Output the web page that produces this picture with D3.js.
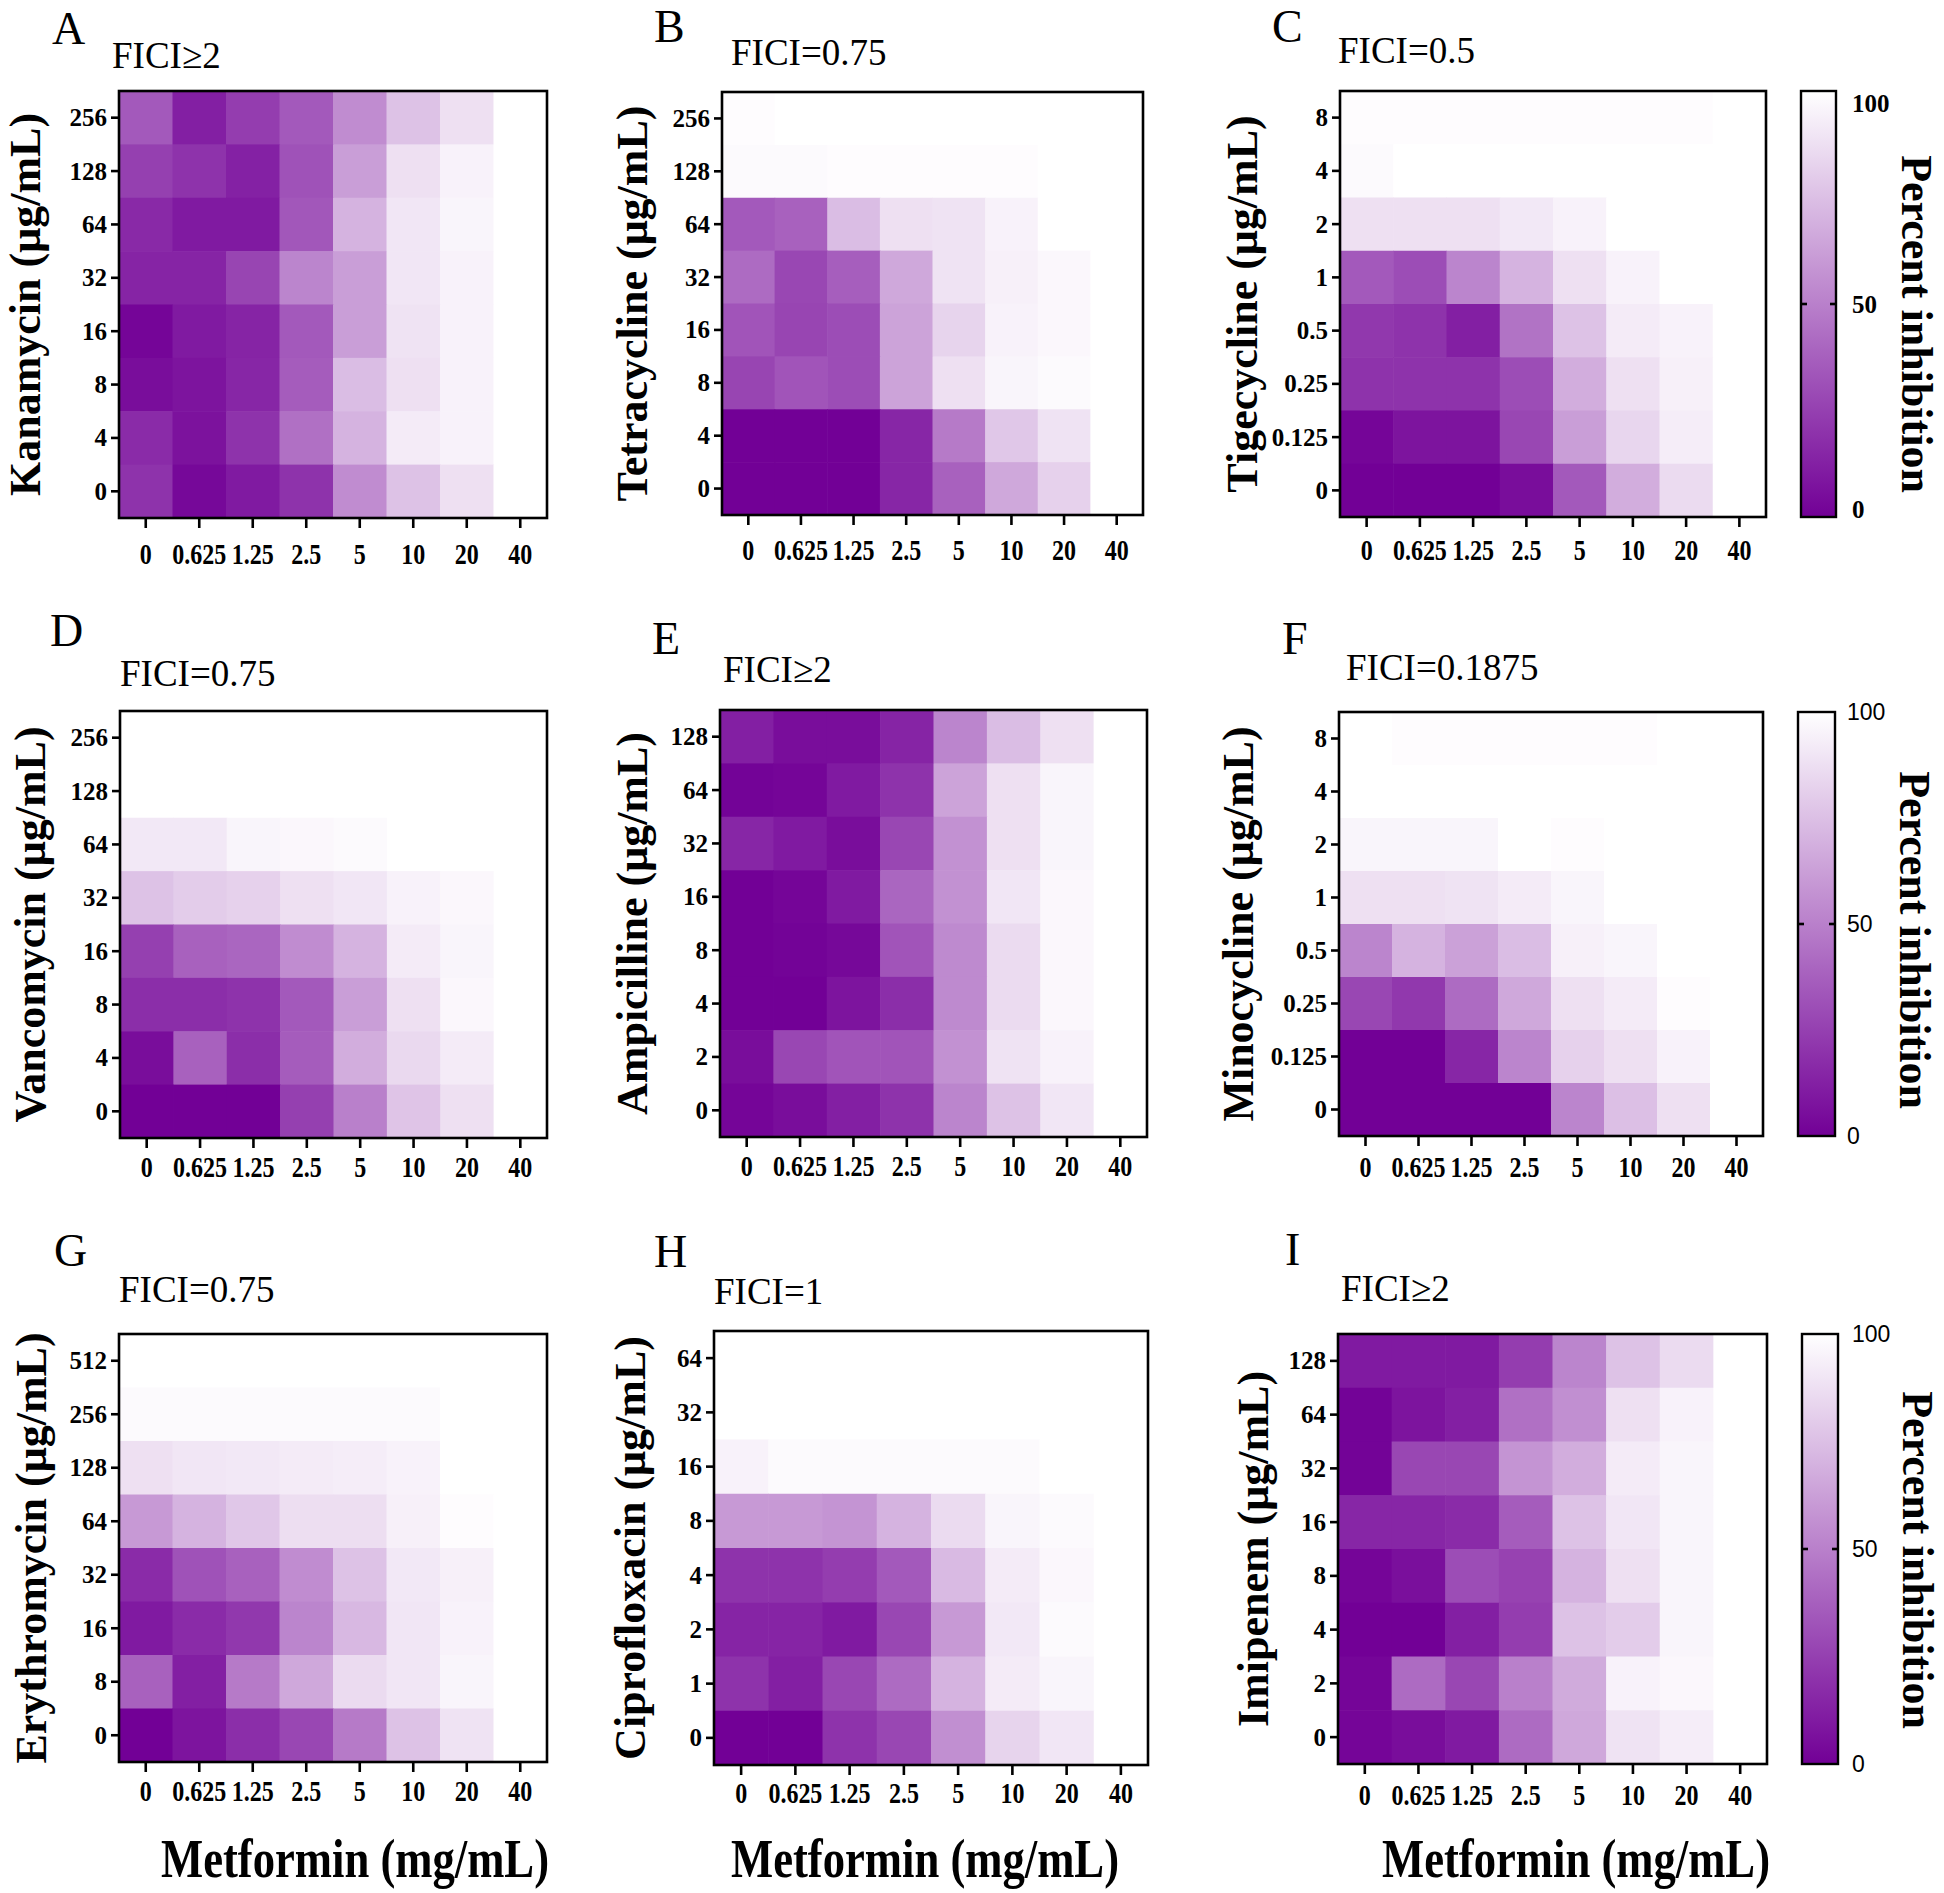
<!DOCTYPE html>
<html><head><meta charset="utf-8">
<script src="https://cdn.jsdelivr.net/npm/d3@7"></script>
<style>body{margin:0;background:#fff}</style>
</head><body>
<script>
// ---------------- DATA ----------------
const metformin = ["0","0.625","1.25","2.5","5","10","20","40"];
const panelLetters = ["A","B","C","D","E","F","G","H","I"];
const antibiotics = ["Kanamycin","Tetracycline","Tigecycline","Vancomycin","Ampicilline","Minocycline","Erythromycin","Ciprofloxacin","Imipenem"];
const ficiLabels = ["FICI≥2","FICI=0.75","FICI=0.5","FICI=0.75","FICI≥2","FICI=0.1875","FICI=0.75","FICI=1","FICI≥2"];
// y tick labels, top row first
const yTicksA = ["256","128","64","32","16","8","4","0"];
const yTicksB = ["256","128","64","32","16","8","4","0"];
const yTicksC = ["8","4","2","1","0.5","0.25","0.125","0"];
const yTicksD = ["256","128","64","32","16","8","4","0"];
const yTicksE = ["128","64","32","16","8","4","2","0"];
const yTicksF = ["8","4","2","1","0.5","0.25","0.125","0"];
const yTicksG = ["512","256","128","64","32","16","8","0"];
const yTicksH = ["64","32","16","8","4","2","1","0"];
const yTicksI = ["128","64","32","16","8","4","2","0"];
// percent inhibition, top row first, columns = metformin
const valuesA = [
 [35,12,24,35,55,76,88,100],[25,20,13,32,62,88,95,100],[16,10,10,34,70,90,96,100],[14,14,27,52,62,90,95,100],
 [2,10,14,35,62,89,95,100],[5,8,15,36,74,88,95,100],[17,7,20,44,70,92,95,100],[20,3,10,20,55,76,88,100]];
const valuesB = [
 [99,100,100,100,100,100,100,100],[98,98,99,99,99,99,100,100],[35,38,74,88,89,95,100,100],[42,28,37,66,89,94,97,100],
 [33,27,30,64,83,95,97,100],[27,33,30,64,88,96,98,100],[0,0,0,15,48,78,89,100],[0,0,0,15,38,66,82,100]];
const valuesC = [
 [99,99,99,99,99,99,99,100],[98,100,100,100,100,100,100,100],[88,88,88,91,95,100,100,100],[35,30,52,70,88,95,100,100],
 [22,20,12,45,76,92,95,100],[20,20,20,30,68,88,94,100],[2,8,8,28,62,84,93,100],[0,0,0,5,35,68,86,100]];
const valuesD = [
 [100,100,100,100,100,100,100,100],[100,100,100,100,100,100,100,100],[91,91,96,97,98,100,100,100],[76,80,82,88,90,95,97,100],
 [25,38,40,55,70,92,96,100],[18,18,20,35,62,88,97,100],[5,38,18,36,68,85,92,100],[0,0,0,25,50,77,88,100]];
const valuesE = [
 [12,5,5,14,52,74,88,100],[1,2,10,20,64,88,96,100],[15,10,5,28,57,88,96,100],[0,2,10,40,57,90,97,100],
 [0,1,3,33,54,86,97,100],[0,0,8,18,54,86,97,100],[5,28,33,33,57,89,95,100],[2,5,12,20,52,76,90,100]];
const valuesF = [
 [100,99,99,99,99,99,100,100],[100,100,100,100,100,100,100,100],[96,96,96,100,99,100,100,100],[88,88,89,92,96,100,100,100],
 [52,70,63,74,94,96,100,100],[28,22,42,66,88,92,99,100],[0,0,15,52,82,88,95,100],[0,0,0,0,52,75,88,100]];
const valuesG = [
 [100,100,100,100,100,100,100,100],[98,98,98,98,98,98,100,100],[88,90,91,92,93,95,100,100],[60,70,78,87,87,94,99,100],
 [17,32,38,55,76,91,94,100],[10,17,22,52,72,90,95,100],[38,12,48,66,86,90,96,100],[0,8,18,28,48,76,89,100]];
const valuesH = [
 [100,100,100,100,100,100,100,100],[100,100,100,100,100,100,100,100],[95,98,98,98,98,98,100,100],[60,60,58,70,86,96,98,100],
 [20,20,24,35,73,92,97,100],[14,14,10,28,60,91,98,100],[20,12,28,42,70,92,96,100],[0,0,20,28,56,83,90,100]];
const valuesI = [
 [10,10,10,24,52,76,86,100],[1,8,12,44,56,88,95,100],[1,28,28,58,68,92,96,100],[15,15,17,36,76,90,96,100],
 [2,6,30,26,70,88,96,100],[0,0,12,24,76,80,96,100],[2,42,28,50,67,95,97,100],[2,5,10,42,66,89,93,100]];
const colorbarTicks = [0,50,100];
const xAxisTitle = "Metformin (mg/mL)";
const colorbarTitle = "Percent inhibition";

const yTicksAll = [yTicksA,yTicksB,yTicksC,yTicksD,yTicksE,yTicksF,yTicksG,yTicksH,yTicksI];
const valuesAll = [valuesA,valuesB,valuesC,valuesD,valuesE,valuesF,valuesG,valuesH,valuesI];

// ---------------- LAYOUT ----------------
const layout = [
 {frame:[119,91,547,518],  titleX:40,   letter:[52,44],    fici:[112,68],   xlab:36},
 {frame:[722,92,1143,515], titleX:647,  letter:[654,42],   fici:[731,65],   xlab:35},
 {frame:[1340,91,1766,517],titleX:1257, letter:[1272,42],  fici:[1338,63],  xlab:33},
 {frame:[120,711,547,1138],titleX:45,   letter:[50,646],   fici:[120,686],  xlab:29},
 {frame:[720,710,1147,1137],titleX:647, letter:[652,654],  fici:[723,682],  xlab:29},
 {frame:[1339,712,1763,1136],titleX:1253,letter:[1282,654],fici:[1346,680], xlab:31},
 {frame:[119,1334,547,1762],titleX:46,  letter:[54,1266],  fici:[119,1302], xlab:29},
 {frame:[714,1331,1148,1765],titleX:645,letter:[654,1267], fici:[714,1304], xlab:28},
 {frame:[1338,1334,1767,1764],titleX:1268,letter:[1285,1265],fici:[1341,1301],xlab:31}
];
const colorbars = [
 {panel:2, rect:[1801,91,1836,517],  labelX:1852, serif:true,  titleX:1902, titleY:324, offTop:12, offBot:-8},
 {panel:5, rect:[1798,712,1835,1136],labelX:1847, serif:false, titleX:1900, titleY:940, offTop:0, offBot:0},
 {panel:8, rect:[1802,1334,1838,1764],labelX:1852,serif:false, titleX:1903, titleY:1560, offTop:0, offBot:0}
];
const xTitles = [{cx:355,y:1877},{cx:925,y:1877},{cx:1576,y:1877}];

const SERIF = "'Liberation Serif','Times New Roman',serif";
const SANS = "'Liberation Sans',Arial,sans-serif";
const color = d3.scaleLinear().domain([0,100]).range(["#720096","#ffffff"]).interpolate(d3.interpolateRgb);

const svg = d3.select("body").append("svg").attr("width",1944).attr("height",1893).style("display","block");

valuesAll.forEach((vals,i)=>{
  const L = layout[i];
  const [x0,y0,x1,y1] = L.frame;
  const xs = d3.scaleBand().domain(metformin).range([x0,x1]);
  const ys = d3.scaleBand().domain(yTicksAll[i]).range([y0,y1]);
  const g = svg.append("g");
  const cells = [];
  vals.forEach((row,r)=>row.forEach((v,c)=>cells.push({r:yTicksAll[i][r], c:metformin[c], v})));
  g.selectAll("rect.cell").data(cells).join("rect").attr("class","cell")
    .attr("x",d=>xs(d.c)).attr("y",d=>ys(d.r))
    .attr("width",xs.bandwidth()+0.6).attr("height",ys.bandwidth()+0.6)
    .attr("fill",d=>color(d.v));
  g.append("rect").attr("x",x0).attr("y",y0).attr("width",x1-x0).attr("height",y1-y0)
    .attr("fill","none").attr("stroke","#000").attr("stroke-width",2.6);

  // x axis
  const xa = g.append("g").attr("transform",`translate(0,${y1})`).call(d3.axisBottom(xs).tickSize(10));
  xa.select(".domain").remove();
  xa.selectAll("line").attr("stroke","#000").attr("stroke-width",2.6);
  xa.selectAll("text").attr("y",L.xlab).attr("dy","0.35em")
    .attr("transform","scale(0.8,1)")
    .style("font-family",SERIF).style("font-weight","bold").style("font-size","30px").attr("fill","#000");
  // y axis
  const ya = g.append("g").attr("transform",`translate(${x0},0)`).call(d3.axisLeft(ys).tickSize(8).tickPadding(4));
  ya.select(".domain").remove();
  ya.selectAll("line").attr("stroke","#000").attr("stroke-width",2.6);
  ya.selectAll("text").attr("dy","0.34em")
    .style("font-family",SERIF).style("font-weight","bold").style("font-size","25px").attr("fill","#000");

  // y title
  g.append("text").attr("transform",`translate(${L.titleX},${(y0+y1)/2}) rotate(-90)`)
    .attr("text-anchor","middle").style("font-family",SERIF).style("font-weight","bold").style("font-size","44px")
    .text(antibiotics[i] + " (μg/mL)");
  // FICI
  g.append("text").attr("x",L.fici[0]).attr("y",L.fici[1]).style("font-family",SERIF).style("font-size","37px")
    .text(ficiLabels[i]);
  // letter
  g.append("text").attr("x",L.letter[0]).attr("y",L.letter[1]).style("font-family",SERIF).style("font-size","46px")
    .text(panelLetters[i]);
});

// colorbars
const defs = svg.append("defs");
const grad = defs.append("linearGradient").attr("id","cbgrad").attr("x1",0).attr("y1",1).attr("x2",0).attr("y2",0);
d3.range(0,101,10).forEach(v=>grad.append("stop").attr("offset",v+"%").attr("stop-color",color(v)));
colorbars.forEach(cb=>{
  const [x0,y0,x1,y1] = cb.rect;
  const s = d3.scaleLinear().domain([0,100]).range([y1,y0]);
  const g = svg.append("g");
  g.append("rect").attr("x",x0).attr("y",y0).attr("width",x1-x0).attr("height",y1-y0)
    .attr("fill","url(#cbgrad)").attr("stroke","#000").attr("stroke-width",2.4);
  g.selectAll("line.tk").data([50]).join("line").attr("x1",x0).attr("x2",x0+6).attr("y1",d=>s(d)).attr("y2",d=>s(d))
    .attr("stroke","#000").attr("stroke-width",2.6);
  g.selectAll("line.tk2").data([50]).join("line").attr("x1",x1-6).attr("x2",x1).attr("y1",d=>s(d)).attr("y2",d=>s(d))
    .attr("stroke","#000").attr("stroke-width",2.6);
  g.selectAll("text.lab").data(colorbarTicks).join("text")
    .attr("x",cb.labelX).attr("y",d=>s(d) + (d===100?cb.offTop:(d===0?cb.offBot:0))).attr("dy","0.35em")
    .style("font-family",cb.serif?SERIF:SANS).style("font-weight",cb.serif?"bold":"normal")
    .style("font-size",cb.serif?"25px":"23px").text(d=>d);
  g.append("text").attr("transform",`translate(${cb.titleX},${cb.titleY}) rotate(90)`)
    .attr("text-anchor","middle").style("font-family",SERIF).style("font-weight","bold").style("font-size","44px")
    .text(colorbarTitle);
});

// x titles
xTitles.forEach(t=>{
  svg.append("text").attr("x",t.cx).attr("y",t.y).attr("text-anchor","middle")
    .attr("textLength",388).attr("lengthAdjust","spacingAndGlyphs")
    .style("font-family",SERIF).style("font-weight","bold").style("font-size","54px").text(xAxisTitle);
});
</script>
</body></html>
